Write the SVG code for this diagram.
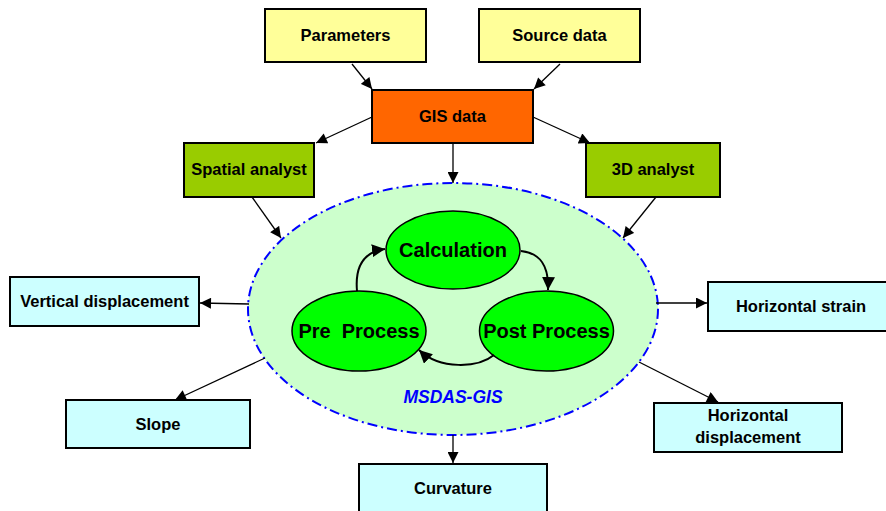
<svg xmlns="http://www.w3.org/2000/svg" width="886" height="511" viewBox="0 0 886 511">
<defs>
<marker id="ah" viewBox="0 0 10 10" refX="10" refY="5" markerWidth="12" markerHeight="11" markerUnits="userSpaceOnUse" orient="auto"><path d="M0,0 L10,5 L0,10 z" fill="#000"/></marker>
<marker id="ahb" viewBox="0 0 10 10" refX="10" refY="5" markerWidth="13" markerHeight="13" markerUnits="userSpaceOnUse" orient="auto"><path d="M0,0 L10,5 L0,10 z" fill="#000"/></marker>
<style>
.box{stroke:#000;stroke-width:2}
.y{fill:#FFFF99}.o{fill:#FF6600}.g{fill:#99CC00}.c{fill:#CCFFFF}
.t{font-family:"Liberation Sans",Arial,sans-serif;font-weight:bold;font-size:16.5px;text-anchor:middle;fill:#000}
.e{fill:#00FF00;stroke:#000;stroke-width:1.5}
.et{font-family:"Liberation Sans",Arial,sans-serif;font-weight:bold;font-size:20px;text-anchor:middle;fill:#000;white-space:pre}
.ln{stroke:#000;stroke-width:1.3;fill:none;marker-end:url(#ah)}
.cy{stroke:#000;stroke-width:2;fill:none;marker-end:url(#ahb)}
</style>
</defs>
<g id="msdas">
<ellipse cx="453" cy="309" rx="205" ry="126" fill="#CCFFCC" stroke="#0000FF" stroke-width="2" stroke-dasharray="10,4,2,4"/>
<text x="453" y="403" font-family="'Liberation Sans',Arial,sans-serif" font-weight="bold" font-style="italic" font-size="17.5" fill="#0000FF" text-anchor="middle">MSDAS-GIS</text>
</g>
<g id="parameters"><rect class="box y" x="265" y="9" width="161" height="53"/><text class="t" x="345.5" y="41">Parameters</text></g>
<g id="source"><rect class="box y" x="479" y="9" width="161" height="53"/><text class="t" x="559.5" y="41">Source data</text></g>
<g id="gis"><rect class="box o" x="372" y="90" width="161" height="53"/><text class="t" x="452.5" y="122">GIS data</text></g>
<g id="spatial"><rect class="box g" x="184" y="143" width="130" height="54"/><text class="t" x="249" y="175">Spatial analyst</text></g>
<g id="analyst3d"><rect class="box g" x="586" y="143" width="134" height="54"/><text class="t" x="653" y="175">3D analyst</text></g>
<g id="calc"><ellipse class="e" cx="453" cy="250" rx="67" ry="39"/><text class="et" x="453" y="257">Calculation</text></g>
<g id="pre"><ellipse class="e" cx="359" cy="331" rx="67" ry="40"/><text class="et" x="359" y="338">Pre  Process</text></g>
<g id="post"><ellipse class="e" cx="546.5" cy="331" rx="67" ry="40"/><text class="et" x="546.5" y="338">Post Process</text></g>
<g id="vdisp"><rect class="box c" x="10" y="277" width="189" height="49"/><text class="t" x="104.5" y="307">Vertical displacement</text></g>
<g id="slope"><rect class="box c" x="66" y="400" width="184" height="48"/><text class="t" x="158" y="430">Slope</text></g>
<g id="hstrain"><rect class="box c" x="708" y="282" width="180" height="49"/><text class="t" x="801" y="312">Horizontal strain</text></g>
<g id="hdisp"><rect class="box c" x="654" y="403" width="188" height="49"/><text class="t" x="748" y="421">Horizontal</text><text class="t" x="748" y="443">displacement</text></g>
<g id="curv"><rect class="box c" x="359" y="464" width="188" height="48"/><text class="t" x="453" y="494">Curvature</text></g>
<g id="connectors">
<line class="ln" x1="352" y1="64" x2="372" y2="89"/>
<line class="ln" x1="560" y1="64" x2="534" y2="89"/>
<line class="ln" x1="372" y1="117" x2="316" y2="143"/>
<line class="ln" x1="533" y1="117" x2="590" y2="143"/>
<line class="ln" x1="453" y1="143" x2="453" y2="183"/>
<line class="ln" x1="252" y1="197" x2="281" y2="238"/>
<line class="ln" x1="656" y1="197" x2="623" y2="238"/>
<line class="ln" x1="249" y1="304" x2="200" y2="303"/>
<line class="ln" x1="265" y1="358" x2="175" y2="400"/>
<line class="ln" x1="656" y1="303" x2="707" y2="303"/>
<line class="ln" x1="639" y1="362" x2="718" y2="402"/>
<line class="ln" x1="453" y1="435" x2="453" y2="463"/>
<path class="cy" d="M357,291 C355,268 362,252 385,249"/>
<path class="cy" d="M521,251 C540,253 549,265 548,290"/>
<path class="cy" d="M494,355 C478,368 440,370 419,350"/>
</g>
</svg>
